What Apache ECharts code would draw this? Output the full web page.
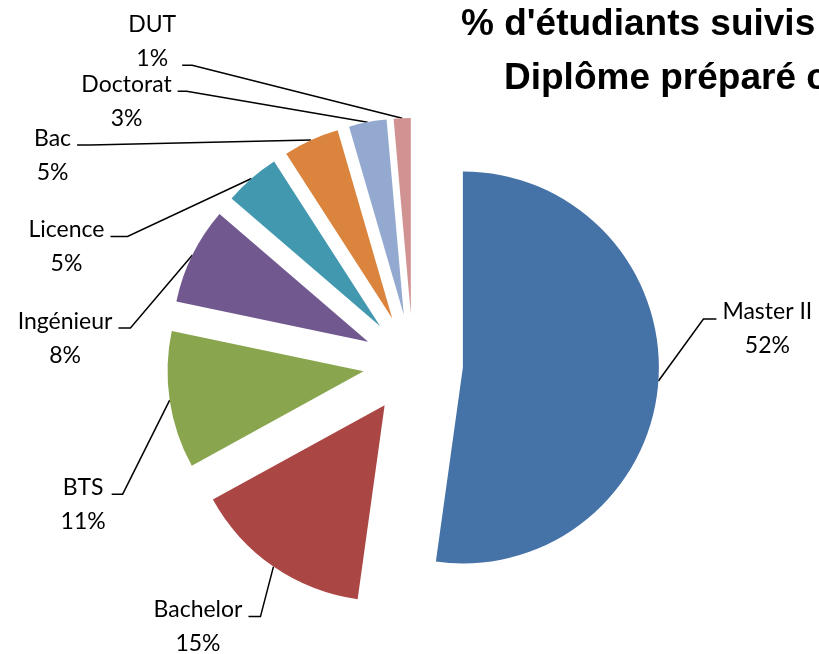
<!DOCTYPE html>
<html>
<head>
<meta charset="utf-8">
<script src="https://cdn.jsdelivr.net/npm/echarts@6/dist/echarts.min.js"></script>
<style>
  html, body { margin: 0; padding: 0; background: #fff; }
  #chart { width: 819px; height: 654px; }
</style>
</head>
<body>
<div id="chart"></div>
<script>
var diplomes = ['Master II', 'Bachelor', 'BTS', 'Ingénieur', 'Licence', 'Bac', 'Doctorat', 'DUT'];
var parts = [52.2, 14.8, 11.3, 8.0, 4.6, 4.6, 3.1, 1.4];
var couleurs = ['#4572A7', '#AA4643', '#89A54E', '#71588F', '#4198AF', '#DB843D', '#93A9CF', '#D19392'];
var titre1 = "% d'étudiants suivis";
var titre2 = 'Diplôme préparé c';

// leader lines a la Excel : [dx, dy] from slice edge to the bend, then a short tail
var renvois = [[45, -62, 13], [-13, 50, -12], [-47, 94, -11], [-62, 73, -12],
               [-124, 58, -17], [-221, 5, -13], [-181, -31, -9], [-210, -53, -10]];
var accroche = [0, 0, 0, 0, 0, 0, 0, 1]; // DUT : line hooks on the % row
var RAYON = 196;
var ECART = 50;
var LH = 34;

var chart = echarts.init(document.getElementById('chart'));

var parts_data = diplomes.map(function (nom, i) {
  return { name: nom, value: parts[i], selected: true, itemStyle: { color: couleurs[i] } };
});
// same slices, invisible, sized to the exploded edge : only carries the labels
var etiquettes_data = diplomes.map(function (nom, i) {
  return { name: nom, value: parts[i] };
});

var texte = { fontFamily: 'Lato', fontSize: 23, lineHeight: LH, color: '#000', align: 'center' };
var titreStyle = { fontFamily: 'Liberation Sans, Arial', fontSize: 37, fontWeight: 'bold', color: '#000', lineHeight: 38 };

var option = {
  animation: false,
  title: [
    { text: titre1, left: 456, top: 1, textStyle: titreStyle },
    { text: titre2, left: 499, top: 55, textStyle: titreStyle }
  ],
  series: [{
    type: 'pie',
    center: [413, 364],
    radius: RAYON,
    startAngle: 90,
    clockwise: true,
    selectedMode: 'multiple',
    selectedOffset: ECART,
    emphasis: { disabled: true },
    itemStyle: { borderWidth: 0 },
    label: { show: false },
    labelLine: { show: false },
    data: parts_data
  }, {
    type: 'pie',
    center: [413, 364],
    radius: RAYON + ECART,
    startAngle: 90,
    clockwise: true,
    silent: true,
    selectedMode: false,
    avoidLabelOverlap: false,
    percentPrecision: 0,
    emphasis: { disabled: true },
    itemStyle: { color: 'rgba(0,0,0,0)', borderWidth: 0 },
    label: {
      show: true,
      position: 'outside',
      formatter: '{n|{b}}\n{p|{d}%}',
      fontFamily: 'Lato', fontSize: 23, lineHeight: LH, color: '#000',
      rich: { n: texte, p: texte }
    },
    labelLine: { show: true, length: 10, length2: 10, lineStyle: { color: '#000', width: 1.5 } },
    labelLayout: function (p) {
      var pts = p.labelLinePoints;
      var i = p.dataIndex;
      var r = renvois[i];
      var ex = pts[0][0], ey = pts[0][1];
      var bx = ex + r[0], by = ey + r[1];
      var tx = bx + r[2];
      var droite = r[2] > 0;
      return {
        x: droite ? tx + 6 : tx - 6,
        y: by - 24 - accroche[i] * LH,
        align: droite ? 'left' : 'right',
        verticalAlign: 'top',
        labelLinePoints: [[ex, ey], [bx, by], [tx, by]]
      };
    },
    data: etiquettes_data
  }]
};

chart.setOption(option);
</script>
</body>
</html>
